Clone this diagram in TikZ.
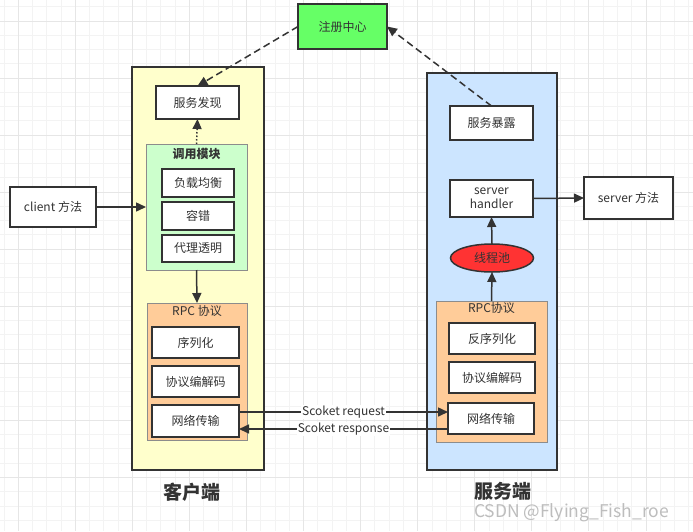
\documentclass[tikz,border=0pt]{standalone}
\usepackage{fontspec}
\setmainfont{Noto Sans CJK SC}
\usetikzlibrary{arrows.meta,shapes.geometric}
\definecolor{ink}{HTML}{333333}
\definecolor{gridminor}{HTML}{F3F3F3}
\definecolor{gridmajor}{HTML}{E6E6E6}
\definecolor{regfill}{HTML}{66FF66}
\definecolor{clientfill}{HTML}{FFFFCC}
\definecolor{serverfill}{HTML}{CCE5FF}
\definecolor{callfill}{HTML}{CCFFCC}
\definecolor{rpcfill}{HTML}{FFCC99}
\definecolor{poolfill}{HTML}{FF3333}
\definecolor{framegray}{HTML}{8C8C8C}
\definecolor{wmgray}{HTML}{BDBDBD}
\tikzset{
  base/.style={inner sep=0pt, outer sep=0pt, text=ink, font=\fontsize{12}{14}\selectfont},
  wbox/.style={base, rectangle, draw=ink, line width=1.6pt, fill=white},
  container/.style={rectangle, draw=ink, line width=1.5pt, inner sep=0pt, outer sep=0pt},
  group/.style={rectangle, draw=framegray, line width=1pt, inner sep=0pt, outer sep=0pt},
  arr/.style={draw=ink, line width=1.5pt, -{Triangle[length=10pt,width=9pt]}},
  grouplabel/.style={base},
  sidelabel/.style={base, font=\fontsize{19}{22}\selectfont\bfseries},
}
\begin{document}
\begin{tikzpicture}[x=1pt,y=-1pt]
\useasboundingbox (0,0) rectangle (693,531);
\fill[white] (0,0) rectangle (693,531);
% grid
\foreach \i in {0,...,48} {\draw[gridminor, line width=1pt] ({4.034+14.266*\i},0) -- ({4.034+14.266*\i},531);}
\foreach \i in {0,...,36} {\draw[gridminor, line width=1pt] (0,{6.734+14.266*\i}) -- (693,{6.734+14.266*\i});}
\foreach \j in {0,...,11} {\draw[gridmajor, line width=1pt] ({18.3+57.064*\j},0) -- ({18.3+57.064*\j},531);}
\foreach \j in {0,...,8} {\draw[gridmajor, line width=1pt] (0,{21+57.064*\j}) -- (693,{21+57.064*\j});}

% containers
\node[container, fill=clientfill, minimum width=132pt, minimum height=403pt] (ccont) at (198,268.5) {};
\node[container, fill=serverfill, minimum width=130pt, minimum height=397pt] (scont) at (492,271.5) {};

% registry
\node[wbox, fill=regfill, minimum width=89pt, minimum height=45pt, line width=1.5pt] (reg) at (342.5,26.5) {注册中心};

% client side
\node[wbox, minimum width=83pt, minimum height=33pt] (fx) at (197.5,102.5) {服务发现};
\node[group, fill=callfill, minimum width=101pt, minimum height=126pt] (dy) at (196.5,207) {};
\node[grouplabel, font=\fontsize{12}{14}\selectfont\bfseries] (dylab) at (196.5,153.5) {调用模块};
\node[wbox, minimum width=72pt, minimum height=28pt] (fz) at (198,183) {负载均衡};
\node[wbox, minimum width=72pt, minimum height=28pt] (rc) at (198,216) {容错};
\node[wbox, minimum width=72pt, minimum height=27pt] (dl) at (198,248.5) {代理透明};

\node[group, fill=rpcfill, minimum width=100pt, minimum height=137pt] (crpc) at (197,371.5) {};
\node[grouplabel] (crpclab) at (197,310.5) {RPC 协议};
\node[wbox, minimum width=87pt, minimum height=31pt] (xl) at (195.5,342.5) {序列化};
\node[wbox, minimum width=87pt, minimum height=31pt] (cbj) at (195.5,381.5) {协议编解码};
\node[wbox, minimum width=87pt, minimum height=32pt] (cnet) at (195.5,421) {网络传输};

\node[wbox, minimum width=86pt, minimum height=40pt] (cm) at (53,207) {client 方法};

% server side
\node[wbox, minimum width=83pt, minimum height=34pt] (bl) at (491.5,123) {服务暴露};
\node[wbox, minimum width=83pt, minimum height=37pt, align=center, font=\fontsize{12}{14}\selectfont] (sh) at (491.5,198.5) {server\\handler};
\node[wbox, minimum width=89pt, minimum height=42pt] (sm) at (628.5,198) {server 方法};
\node[base, ellipse, draw=ink, line width=1.5pt, fill=poolfill, minimum width=83pt, minimum height=28pt] (pool) at (492,258) {线程池};

\node[group, fill=rpcfill, minimum width=111pt, minimum height=141pt] (srpc) at (491.5,371.5) {};
\node[grouplabel] (srpclab) at (491.5,308) {RPC协议};
\node[wbox, minimum width=86pt, minimum height=31pt] (fxl) at (492,338.5) {反序列化};
\node[wbox, minimum width=86pt, minimum height=31pt] (sbj) at (492,377.5) {协议编解码};
\node[wbox, minimum width=86pt, minimum height=31pt] (snet) at (491,418.5) {网络传输};

% side labels
\node[sidelabel] (clab) at (192,492) {客户端};
\node[sidelabel] (slab) at (503,491) {服务端};

% connectors
\draw[arr, dash pattern=on 7pt off 4pt] (reg.west) -- (fx.north);
\draw[arr, dash pattern=on 7pt off 4pt] (bl.north) -- (reg.east);
\draw[arr, dash pattern=on 1.5pt off 2pt] (dy.north) -- (fx.south);
\draw[arr] (cm.east) -- (dy.west);
\draw[arr] (dy.south) -- (crpc.north);
\draw[arr] (sh.east) -- (sm.west);
\draw[arr] (pool.north) -- (sh.south);
\draw[arr] (srpc.north) -- (pool.south);
\draw[arr] ([yshift=9pt]cnet.east) -- ([yshift=9pt]cnet.east -| snet.west)
  node[base, midway, fill=white, inner sep=1pt] (req) {Scoket request};
\draw[arr] ([yshift=-10.5pt]snet.west) -- ([yshift=-10.5pt]snet.west -| cnet.east)
  node[base, midway, fill=white, inner sep=1pt] (resp) {Scoket response};

% watermark
\node[base, text=wmgray, font=\fontsize{17.5}{19}\selectfont, anchor=west] (wm) at (474,513) {CSDN @Flying\_Fish\_roe};
\end{tikzpicture}
\end{document}
